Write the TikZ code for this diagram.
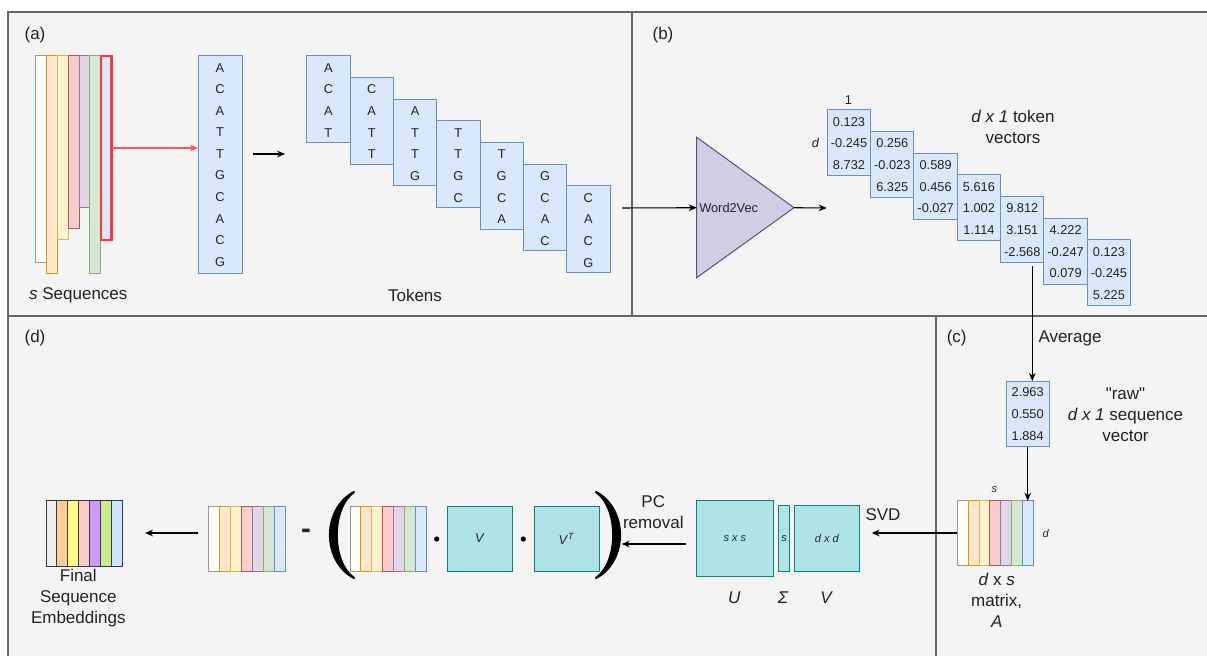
\documentclass[tikz,border=0pt]{standalone}
\usepackage{fontspec}
\setmainfont{Liberation Sans}[Ligatures=TeXOff]
\usetikzlibrary{arrows.meta}
\definecolor{panel}{HTML}{F4F4F4}
\definecolor{framec}{HTML}{666666}
\definecolor{txt}{HTML}{222222}
\definecolor{tokF}{HTML}{DAE8FC}\definecolor{tokS}{HTML}{6C8EBF}
\definecolor{orF}{HTML}{FFE6CC}\definecolor{orS}{HTML}{D79B00}
\definecolor{yeF}{HTML}{FFF2CC}\definecolor{yeS}{HTML}{D6B656}
\definecolor{reF}{HTML}{F8CECC}\definecolor{reS}{HTML}{B85450}
\definecolor{puF}{HTML}{E1D5E7}\definecolor{puS}{HTML}{9673A6}
\definecolor{grF}{HTML}{D5E8D4}\definecolor{grS}{HTML}{82B366}
\definecolor{gyS}{HTML}{999999}
\definecolor{selR}{HTML}{FF3333}
\definecolor{redArr}{HTML}{FF5555}
\definecolor{tealF}{HTML}{B0E3E6}\definecolor{tealS}{HTML}{0E8088}
\definecolor{wvF}{HTML}{D0CEE2}\definecolor{wvS}{HTML}{56517E}
\definecolor{fa}{HTML}{EEEEEE}\definecolor{fb}{HTML}{FFCC99}\definecolor{fc}{HTML}{FFFF88}
\definecolor{fd}{HTML}{FFCCCC}\definecolor{fe}{HTML}{CC99FF}\definecolor{ff}{HTML}{CDEB8B}
\definecolor{fg}{HTML}{CCE5FF}\definecolor{fS}{HTML}{36393D}
\newcommand\fbig{\fontsize{12.75pt}{15.75pt}\selectfont}
\newcommand\fsm{\fontsize{9.6pt}{11pt}\selectfont}
\newcommand\ftiny{\fontsize{8.25pt}{10pt}\selectfont}
\newcommand\mybox[6]{\node[#6, inner sep=0pt, outer sep=0pt, minimum width={((#4)-(#2))*0.75pt}, minimum height={((#5)-(#3))*0.75pt}] (#1) at ({((#2)+(#4))/2},{((#3)+(#5))/2}) {};}
\tikzset{
  tok/.style={draw=tokS, fill=tokF, line width=0.75pt},
  teal/.style={draw=tealS, fill=tealF, line width=0.75pt},
  lbl/.style={font=\fbig, text=txt, inner sep=0pt},
  sm/.style={font=\fsm, text=txt, inner sep=0pt},
  tiny/.style={font=\ftiny, text=txt, inner sep=0pt},
  arr/.style={draw=black, line width=0.8pt, -{Stealth[length=6pt, width=5pt]}},
}
\begin{document}
\begin{tikzpicture}[x=0.75pt, y=-0.75pt]
\useasboundingbox (0,0) rectangle (1207,656);
\fill[white] (0,0) rectangle (1207,656);
\fill[panel] (8,12) rectangle (1207,656);
\draw[framec, line width=1pt] (8,656) -- (8,12) -- (1207,12);
\draw[framec, line width=0.8pt] (632,12) -- (632,316);
\draw[framec, line width=0.8pt] (8,316) -- (1207,316);
\draw[framec, line width=0.8pt] (936,316) -- (936,656);
% panel labels
\node[lbl] (la) at (35,35) {(a)};
\node[lbl] (lb) at (663,35) {(b)};
\node[lbl] (lc) at (956.7,338.3) {(c)};
\node[lbl] (ld) at (35,338) {(d)};
% (a) sequences
\mybox{s1}{35.7}{56}{46}{262}{draw=gyS, fill=white, line width=0.75pt}
\mybox{s2}{46}{56}{57.3}{273}{draw=orS, fill=orF, line width=0.75pt}
\mybox{s3}{57.3}{56}{68.3}{240}{draw=yeS, fill=yeF, line width=0.75pt}
\mybox{s4}{68.3}{56}{79}{229}{draw=reS, fill=reF, line width=0.75pt}
\mybox{s5}{79}{56}{89.7}{208}{draw=puS, fill=puF, line width=0.75pt}
\mybox{s6}{89.7}{56}{100.3}{273}{draw=grS, fill=grF, line width=0.75pt}
\mybox{sel}{101}{56}{111.5}{240}{draw=selR, fill=tokF, line width=2.2pt}
\node[lbl] (seqlbl) at (78.3,295) {\textit{s} Sequences};
\mybox{seq}{198}{56}{242}{273}{tok}
\foreach \L [count=\j from 0] in {A,C,A,T,T,G,C,A,C,G}
  \node[sm] at (220,{67.7+21.56*\j}) {\L};
\draw[draw=redArr, line width=0.8pt, -{Stealth[length=6pt, width=5pt]}] (sel.east |- 0,148) -- (seq.west |- 0,148);
\coordinate (a1) at (253,154); \coordinate (a2) at (285,154);
\draw[arr] (a1) -- (a2);
% tokens
\foreach \i/\a/\b/\c/\d in {0/A/C/A/T,1/C/A/T/T,2/A/T/T/G,3/T/T/G/C,4/T/G/C/A,5/G/C/A/C,6/C/A/C/G} {
  \pgfmathsetmacro\xa{306.7+43.33*\i}
  \pgfmathsetmacro\ya{55.7+21.67*\i}
  \mybox{t\i}{\xa}{\ya}{\xa+43.33}{\ya+86.7}{tok}
  \foreach \L [count=\j from 0] in {\a,\b,\c,\d}
    \node[sm] at ({\xa+21.67},{\ya+12+21.67*\j}) {\L};
}
\node[lbl] (toklbl) at (415,295) {Tokens};
% (b) word2vec
\coordinate (b1) at (622,208);
\coordinate (wL) at (696.7,207.7);
\coordinate (wR) at (794,207.7);
\draw[draw=wvS, fill=wvF, line width=0.75pt] (696.7,137.3) -- (wR) -- (696.7,277.7) -- cycle;
\draw[arr] (b1) -- (wL);
\node[sm, anchor=west] (w2v) at (699,208) {Word2Vec};
\coordinate (b2) at (826.7,208);
\draw[arr] (wR) -- (b2);
% token vectors
\foreach \i/\a/\b/\c in {0/0.123/-0.245/8.732,1/0.256/-0.023/6.325,2/0.589/0.456/-0.027,3/5.616/1.002/1.114,4/9.812/3.151/-2.568,5/4.222/-0.247/0.079,6/0.123/-0.245/5.225} {
  \pgfmathsetmacro\xa{827.3+43.33*\i}
  \pgfmathsetmacro\ya{109.7+21.67*\i}
  \mybox{v\i}{\xa}{\ya}{\xa+43.33}{\ya+66}{tok}
  \foreach \L [count=\j from 0] in {\a,\b,\c}
    \node[sm] at ({\xa+21.67},{\ya+12+21.67*\j}) {\L};
}
\node[sm] (one) at (848.3,100) {1};
\node[sm] (dd) at (815.7,143.3) {\textit{d}};
\node[lbl, align=center] (tvlbl) at (1013,127) {\textit{d x 1} token\\vectors};
% (c) average
\mybox{raw}{1006}{381}{1049.3}{446.7}{tok}
\node[sm] at (1027.7,392.3) {2.963};
\node[sm] at (1027.7,414.3) {0.550};
\node[sm] at (1027.7,436) {1.884};
\coordinate (avgS) at (1032.3,266);
\draw[arr] (avgS) -- (avgS |- raw.north);
\node[lbl] (avg) at (1070,338) {Average};
\node[lbl, align=center] (rawlbl) at (1125.5,414.5) {"raw"\\\textit{d x 1} sequence\\vector};
% matrix A
\foreach \k/\F/\S in {0/white/gyS,1/orF/orS,2/yeF/yeS,3/reF/reS,4/puF/puS,5/grF/grS,6/tokF/tokS} {
  \pgfmathsetmacro\xa{957.3+10.86*\k}
  \mybox{A\k}{\xa}{500.7}{\xa+10.86}{565.7}{draw=\S, fill=\F, line width=0.75pt}
}
\coordinate (Aw) at (957.3,533);
\draw[arr] (raw.south -| 1027.7,0) -- (1027.7,500.7);
\node[tiny] (As) at (994.3,490) {\textit{s}};
\node[tiny] (Ad) at (1045.7,533.3) {\textit{d}};
\node[lbl, align=center] (Alb) at (996.7,600.5) {\textit{d} x \textit{s}\\matrix,\\\textit{A}};
% SVD
\coordinate (svdT) at (871.7,533);
\draw[arr] (Aw) -- (svdT);
\node[lbl] (svd) at (883,515) {SVD};
\mybox{U}{696.7}{500.7}{773}{576.7}{teal}
\mybox{S}{778.3}{505.7}{789.7}{571}{teal}
\mybox{V}{794.3}{505.7}{859.7}{571}{teal}
\node[tiny] at (U) {\textit{s x s}};
\node[tiny] at (S) {\textit{s}};
\node[tiny] at (V) {\textit{d x d}};
\node[lbl] (Ulb) at (734.3,598) {\textit{U}};
\node[lbl] (Slb) at (783.3,598) {\textit{Σ}};
\node[lbl] (Vlb) at (826.7,598) {\textit{V}};
\node[lbl, align=center] (pcr) at (653.3,512) {PC\\removal};
\coordinate (pc1) at (686,544); \coordinate (pc2) at (621.7,544);
\draw[arr] (pc1) -- (pc2);
% (d) parentheses expression
\filldraw[black, line width=1.6pt, line join=round] (354,492) .. controls (322,509) and (322,561) .. (354,578) .. controls (331,562) and (331,508) .. cycle;
\filldraw[black, line width=1.6pt, line join=round] (596,492) .. controls (628,509) and (628,561) .. (596,578) .. controls (619,562) and (619,508) .. cycle;
\foreach \k/\F/\S in {0/white/gyS,1/orF/orS,2/yeF/yeS,3/reF/reS,4/puF/puS,5/grF/grS,6/tokF/tokS} {
  \pgfmathsetmacro\xa{350+10.86*\k}
  \mybox{P\k}{\xa}{506}{\xa+10.86}{571}{draw=\S, fill=\F, line width=0.75pt}
}
\fill (436.7,539) circle (2.6);
\mybox{VV}{447.7}{506}{512.3}{571}{teal}
\node[sm] at (VV) {\textit{V}};
\fill (523.3,539) circle (2.6);
\mybox{VT}{534.3}{506}{599.3}{571}{teal}
\node[sm] at (VT) {\textit{V}\textsuperscript{\textit{T}}};
\node[font=\fontsize{22pt}{24pt}\selectfont\bfseries, text=txt, inner sep=0pt] (minus) at (306,534) {-};
% left matrix
\foreach \k/\F/\S in {0/white/gyS,1/orF/orS,2/yeF/yeS,3/reF/reS,4/puF/puS,5/grF/grS,6/tokF/tokS} {
  \pgfmathsetmacro\xa{208.3+11.06*\k}
  \mybox{L\k}{\xa}{506}{\xa+11.06}{571.7}{draw=\S, fill=\F, line width=0.75pt}
}
\coordinate (d1) at (198.3,533); \coordinate (d2) at (145,533);
\draw[arr] (d1) -- (d2);
% final embeddings
\foreach \k/\F in {0/fa,1/fb,2/fc,3/fd,4/fe,5/ff,6/fg} {
  \pgfmathsetmacro\xa{46+10.96*\k}
  \mybox{F\k}{\xa}{500.7}{\xa+10.96}{566}{draw=fS, fill=\F, line width=0.75pt}
}
\node[lbl, align=center] (flbl) at (78.3,598.3) {Final\\Sequence\\Embeddings};
\end{tikzpicture}
\end{document}
